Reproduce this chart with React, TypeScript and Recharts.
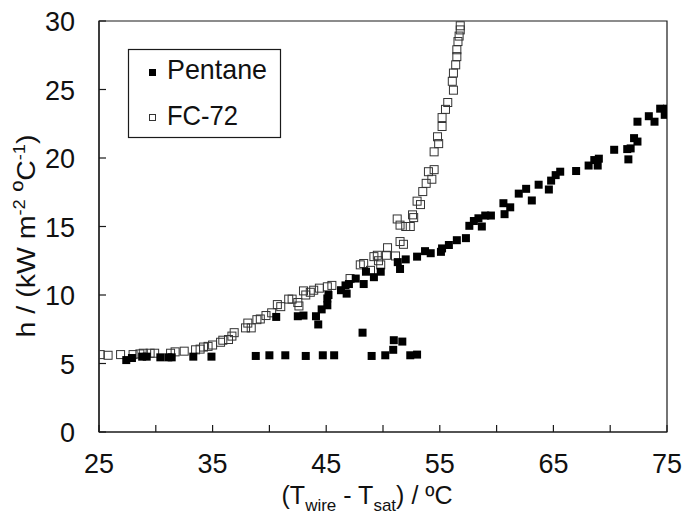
import React from "react"
import { ScatterChart, Scatter, XAxis, YAxis, ReferenceArea } from "recharts"

// Pentane
const pentaneX = [27.4, 27.9, 28.8, 29.2, 30.4, 31.1, 31.4, 33.3, 34.9, 38.8, 40.0, 41.4, 43.2, 44.7, 45.7, 48.2, 49.0, 50.2, 50.9, 50.95, 51.7, 52.4, 53.0,
  40.6, 42.5, 43.0, 44.1, 44.3, 44.6, 45.1, 45.1, 45.2, 46.3, 46.8, 46.7, 47.0, 47.6, 48.3, 48.5, 49.2, 49.8, 51.3, 51.5, 52.0, 53.0, 53.7, 54.2, 55.1, 55.2, 55.8, 56.5,
  57.3, 57.6, 58.0, 58.4, 58.7, 59.0, 59.5, 60.6, 60.7, 61.2, 61.95, 62.6, 63.1, 63.7, 64.6, 64.8, 65.2, 65.6, 67.0, 68.1, 68.6, 68.9, 69.0, 70.35, 71.5, 71.6, 71.8, 72.1, 72.4, 72.4, 73.4, 73.9, 74.4, 74.8, 75.0]
const pentaneY = [5.25, 5.4, 5.5, 5.5, 5.45, 5.45, 5.45, 5.5, 5.5, 5.55, 5.6, 5.6, 5.55, 5.6, 5.6, 7.25, 5.55, 5.6, 6.0, 6.7, 6.6, 5.6, 5.65,
  8.4, 8.45, 8.5, 8.45, 7.85, 8.95, 9.25, 9.75, 10.0, 10.35, 10.1, 10.7, 10.8, 11.2, 10.8, 11.7, 11.3, 11.7, 12.4, 11.9, 12.6, 12.8, 13.2, 13.05, 13.15, 13.4, 13.65, 14.0,
  14.15, 15.05, 15.4, 15.6, 15.0, 15.8, 15.8, 16.7, 15.9, 16.4, 17.4, 17.75, 16.9, 18.05, 17.7, 18.35, 18.75, 19.0, 19.05, 19.45, 19.85, 19.45, 19.95, 20.6, 20.65, 19.9, 20.7, 21.45, 21.2, 22.65, 23.05, 22.65, 23.6, 23.15, 23.6]

// FC-72
const fcX = [25.1, 25.8, 26.9, 28.0, 28.6, 28.9, 29.5, 29.9, 31.3, 31.7, 32.5, 33.5, 33.9, 34.2, 34.6, 35.0, 35.7, 35.9, 36.4, 36.7, 36.9, 37.9, 38.1, 38.4, 38.9, 39.2, 39.7, 40.2, 40.7, 41.0,
  41.7, 42.0, 42.5, 42.6, 43.0, 43.2, 43.6, 43.9, 44.4, 45.1, 45.5, 47.1, 48.0, 48.3, 48.9, 49.2, 49.5, 49.6, 49.8, 50.3, 50.4, 51.1, 51.5, 51.8, 51.25, 51.5, 52.0, 52.4, 52.6, 52.7,
  53.0, 53.3, 53.5, 53.8, 54.0, 54.3, 54.5, 54.5, 54.8, 54.9, 55.2, 55.2, 55.5, 55.7, 56.2, 56.1, 56.2, 56.4, 56.5, 56.5, 56.6, 56.7, 56.8, 56.8]
const fcY = [5.65, 5.6, 5.65, 5.65, 5.7, 5.75, 5.75, 5.75, 5.75, 5.85, 5.9, 6.0, 6.05, 6.2, 6.25, 6.35, 6.55, 6.7, 6.75, 7.0, 7.25, 7.6, 7.95, 7.6, 8.2, 8.25, 8.5, 8.7, 9.3, 9.15,
  9.7, 9.7, 9.45, 9.2, 10.3, 10.0, 10.2, 10.35, 10.5, 10.6, 10.7, 11.2, 12.2, 12.3, 11.8, 12.8, 12.9, 12.5, 12.2, 12.9, 13.45, 12.85, 13.9, 13.7, 15.55, 15.1, 15.0, 15.0, 15.85, 15.65,
  16.85, 16.6, 17.55, 18.15, 19.0, 18.45, 19.15, 20.45, 21.55, 21.05, 22.3, 22.95, 23.55, 24.05, 24.95, 25.6, 26.2, 26.8, 27.4, 27.9, 28.5, 28.9, 29.35, 29.65]

const xTicks = [25, 30, 35, 40, 45, 50, 55, 60, 65, 70, 75]
const xLabeled = [25, 35, 45, 55, 65, 75]
const yTicks = [0, 5, 10, 15, 20, 25, 30]

const pentaneData = pentaneX.map((x, i) => ({ x, y: pentaneY[i] }))
const fcData = fcX.map((x, i) => ({ x, y: fcY[i] }))

const tickFont = "'Liberation Sans', Arial, sans-serif"
const textFont = "'Liberation Sans Narrow', 'Liberation Sans', Arial, sans-serif"
const frame = "#1a1a1a"
const TICK = 7

const BottomTick = (props: any) => {
  const { x, y, payload } = props
  return (
    <g>
      <line x1={x} x2={x} y1={y} y2={y - TICK} stroke={frame} strokeWidth={1.2} />
      {xLabeled.includes(payload.value) && (
        <text x={x} y={y + 41} textAnchor="middle" fontSize={27} fill="#111" fontFamily={tickFont}>{payload.value}</text>
      )}
    </g>
  )
}
const TopTick = (props: any) => {
  const { x, y } = props
  return <line x1={x} x2={x} y1={y} y2={y + TICK} stroke={frame} strokeWidth={1.2} />
}
const LeftTick = (props: any) => {
  const { x, y, payload } = props
  return (
    <g>
      <line x1={x} x2={x + TICK} y1={y} y2={y} stroke={frame} strokeWidth={1.2} />
      <text x={x - 24} y={y + 10} textAnchor="end" fontSize={27} fill="#111" fontFamily={tickFont}>{payload.value}</text>
    </g>
  )
}
const RightTick = (props: any) => {
  const { x, y } = props
  return <line x1={x} x2={x - TICK} y1={y} y2={y} stroke={frame} strokeWidth={1.2} />
}

const FilledSquare = (props: any) => {
  const { cx, cy } = props
  return <rect x={cx - 4} y={cy - 4} width={8} height={8} fill="#000" />
}
const OpenSquare = (props: any) => {
  const { cx, cy } = props
  return <rect x={cx - 4} y={cy - 4} width={8} height={8} fill="none" stroke="#333" strokeWidth={1} />
}

export default function App() {
  return (
    <div style={{ position: "absolute", left: 0, top: 0, width: 686, height: 527, background: "#fff" }}>
      <ScatterChart width={686} height={527} margin={{ top: 21, right: 19, bottom: 65, left: 39 }}>
        <XAxis xAxisId="b" type="number" dataKey="x" domain={[25, 75]} ticks={xTicks} interval={0}
          tick={BottomTick} tickLine={false} tickSize={0} tickMargin={0} height={30}
          axisLine={{ stroke: frame, strokeWidth: 1.2 }} allowDataOverflow />
        <XAxis xAxisId="t" orientation="top" type="number" dataKey="x" domain={[25, 75]} ticks={xTicks} interval={0}
          tick={TopTick} tickLine={false} tickSize={0} tickMargin={0} height={0}
          axisLine={{ stroke: frame, strokeWidth: 1.2 }} allowDataOverflow />
        <YAxis yAxisId="l" type="number" dataKey="y" domain={[0, 30]} ticks={yTicks} interval={0}
          tick={LeftTick} tickLine={false} tickSize={0} tickMargin={0} width={60}
          axisLine={{ stroke: frame, strokeWidth: 1.2 }} allowDataOverflow />
        <YAxis yAxisId="r" orientation="right" type="number" dataKey="y" domain={[0, 30]} ticks={yTicks} interval={0}
          tick={RightTick} tickLine={false} tickSize={0} tickMargin={0} width={0}
          axisLine={{ stroke: frame, strokeWidth: 1.2 }} allowDataOverflow />
        <ReferenceArea xAxisId="b" yAxisId="l" x1={25} x2={75} y1={0} y2={30} fill="none" fillOpacity={0}
          stroke={frame} strokeWidth={1.2} strokeOpacity={1} ifOverflow="visible" />
        <Scatter name="FC-72" data={fcData} xAxisId="b" yAxisId="l" shape={OpenSquare} isAnimationActive={false} />
        <Scatter name="Pentane" data={pentaneData} xAxisId="b" yAxisId="l" shape={FilledSquare} isAnimationActive={false} />

        <text transform="translate(35,236) rotate(-90)" textAnchor="middle" fontSize={25} fill="#111" fontFamily={textFont}
          textLength={203} lengthAdjust="spacingAndGlyphs">
          h / (kW m<tspan dy={-10} fontSize={16}>-2</tspan><tspan dy={10}> </tspan><tspan dy={-4}>º</tspan><tspan dy={4}>C</tspan><tspan dy={-10} fontSize={16}>-1</tspan><tspan dy={10}>)</tspan>
        </text>
        <text x={367} y={504} textAnchor="middle" fontSize={25} fill="#111" fontFamily={textFont}
          textLength={171} lengthAdjust="spacingAndGlyphs">
          (T<tspan dy={7} fontSize={17}>wire</tspan><tspan dy={-7}> - T</tspan><tspan dy={7} fontSize={17}>sat</tspan><tspan dy={-7}>) / ºC</tspan>
        </text>

        <g>
          <rect x={128.5} y={49.5} width={152} height={88} fill="#fff" stroke={frame} strokeWidth={1.2} />
          <rect x={149} y={69} width={7} height={7} fill="#000" />
          <text x={167} y={79} fontSize={28} fill="#111" fontFamily={textFont} textLength={100} lengthAdjust="spacingAndGlyphs">Pentane</text>
          <rect x={149.5} y={114.5} width={6} height={6} fill="none" stroke="#333" />
          <text x={167} y={125} fontSize={28} fill="#111" fontFamily={textFont} textLength={71} lengthAdjust="spacingAndGlyphs">FC-72</text>
        </g>
      </ScatterChart>
    </div>
  )
}
